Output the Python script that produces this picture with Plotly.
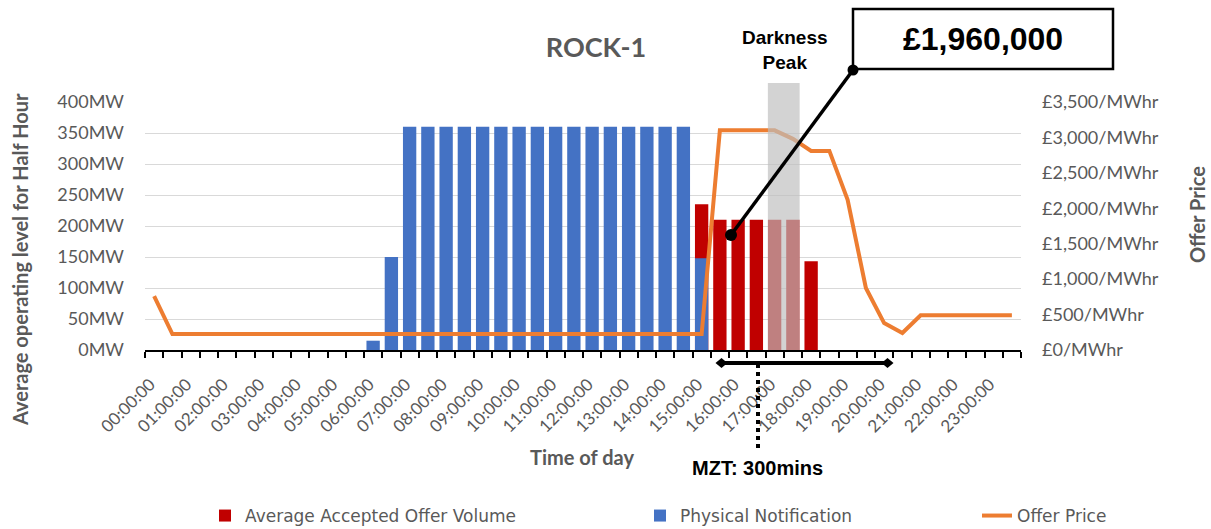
import plotly.graph_objects as go

# ---------------- data ----------------
half_hours = [
    "00:00:00", "00:30:00", "01:00:00", "01:30:00", "02:00:00", "02:30:00",
    "03:00:00", "03:30:00", "04:00:00", "04:30:00", "05:00:00", "05:30:00",
    "06:00:00", "06:30:00", "07:00:00", "07:30:00", "08:00:00", "08:30:00",
    "09:00:00", "09:30:00", "10:00:00", "10:30:00", "11:00:00", "11:30:00",
    "12:00:00", "12:30:00", "13:00:00", "13:30:00", "14:00:00", "14:30:00",
    "15:00:00", "15:30:00", "16:00:00", "16:30:00", "17:00:00", "17:30:00",
    "18:00:00", "18:30:00", "19:00:00", "19:30:00", "20:00:00", "20:30:00",
    "21:00:00", "21:30:00", "22:00:00", "22:30:00", "23:00:00", "23:30:00",
]
hour_labels = [
    "00:00:00", "01:00:00", "02:00:00", "03:00:00", "04:00:00", "05:00:00",
    "06:00:00", "07:00:00", "08:00:00", "09:00:00", "10:00:00", "11:00:00",
    "12:00:00", "13:00:00", "14:00:00", "15:00:00", "16:00:00", "17:00:00",
    "18:00:00", "19:00:00", "20:00:00", "21:00:00", "22:00:00", "23:00:00",
]
accepted_offer_mw = [
    0, 0, 0, 0, 0, 0, 0, 0, 0, 0, 0, 0,
    0, 0, 0, 0, 0, 0, 0, 0, 0, 0, 0, 0,
    0, 0, 0, 0, 0, 0, 235, 210, 210, 210, 210, 210,
    143, 0, 0, 0, 0, 0, 0, 0, 0, 0, 0, 0,
]
physical_notification_mw = [
    0, 0, 0, 0, 0, 0, 0, 0, 0, 0, 0, 0,
    15, 150, 360, 360, 360, 360, 360, 360, 360, 360, 360, 360,
    360, 360, 360, 360, 360, 360, 148, 0, 0, 0, 0, 0,
    0, 0, 0, 0, 0, 0, 0, 0, 0, 0, 0, 0,
]
offer_price_gbp = [
    760, 225, 225, 225, 225, 225, 225, 225, 225, 225, 225, 225,
    225, 225, 225, 225, 225, 225, 225, 225, 225, 225, 225, 225,
    225, 225, 225, 225, 225, 225, 225, 3100, 3100, 3100, 3100, 2980,
    2810, 2810, 2120, 875, 380, 240, 490, 490, 490, 490, 490, 490,
]
darkness_peak_slots = ["17:00:00", "17:30:00"]
total_value_text = "£1,960,000"
mzt_text = "MZT: 300mins"

# ---------------- figure ----------------
slot_pos = list(range(len(half_hours)))
hour_pos = [half_hours.index(h) for h in hour_labels]
boundaries = [p - 0.5 for p in slot_pos] + [slot_pos[-1] + 0.5]

GREY = "#595959"
FONT = "Lato"
LEGEND_FONT = "DejaVu Sans"

fig = go.Figure()
fig.add_trace(go.Bar(
    x=slot_pos, y=accepted_offer_mw, name="Average Accepted Offer Volume",
    marker=dict(color="#C00000", line=dict(width=0)), legend="legend",
    customdata=half_hours, hovertemplate="%{customdata}: %{y}MW<extra></extra>",
))
fig.add_trace(go.Bar(
    x=slot_pos, y=physical_notification_mw, name="Physical Notification",
    marker=dict(color="#4472C4", line=dict(width=0)), legend="legend2",
    customdata=half_hours, hovertemplate="%{customdata}: %{y}MW<extra></extra>",
))
fig.add_trace(go.Scatter(
    x=slot_pos, y=offer_price_gbp, name="Offer Price", yaxis="y2",
    mode="lines", line=dict(color="#ED7D31", width=4), legend="legend3",
    customdata=half_hours, hovertemplate="%{customdata}: £%{y}/MWhr<extra></extra>",
))

# plot area in pixels: x 145..1021, y 102..350
L, R, T, B = 145, 1021, 102, 350
W, H = R - L, B - T


def px(xp):
    return (xp - L) / W


def py(yp):
    return (B - yp) / H


dp0 = half_hours.index(darkness_peak_slots[0])
dp1 = half_hours.index(darkness_peak_slots[-1])

shapes = [
    # darkness peak band
    dict(type="rect", xref="x", yref="paper", x0=dp0 - 0.37, x1=dp1 + 0.37,
         y0=0, y1=py(83), fillcolor="rgba(190,190,190,0.675)",
         line=dict(width=0), layer="above"),
    # value box
    dict(type="rect", xref="paper", yref="paper", x0=px(853), x1=px(1113),
         y0=py(69), y1=py(9), fillcolor="white",
         line=dict(color="black", width=2.5), layer="above"),
    # pointer line
    dict(type="line", xref="paper", yref="paper", x0=px(731), y0=py(235),
         x1=px(853), y1=py(70), line=dict(color="black", width=3.5), layer="above"),
    dict(type="circle", xref="paper", yref="paper", x0=px(731 - 6), x1=px(731 + 6),
         y0=py(235 + 6), y1=py(235 - 6), fillcolor="black",
         line=dict(width=0), layer="above"),
    dict(type="circle", xref="paper", yref="paper", x0=px(853 - 5.5), x1=px(853 + 5.5),
         y0=py(70 + 5.5), y1=py(70 - 5.5), fillcolor="black",
         line=dict(width=0), layer="above"),
    # MZT span
    dict(type="line", xref="paper", yref="paper", x0=px(720), y0=py(363),
         x1=px(885), y1=py(363), line=dict(color="black", width=4), layer="above"),
    dict(type="line", xref="paper", yref="paper", x0=px(758), y0=py(364),
         x1=px(758), y1=py(450), line=dict(color="black", width=4, dash="dot"),
         layer="above"),
]
for cx in (721.5, 887.5):
    shapes.append(dict(
        type="path", xref="paper", yref="paper",
        path=(f"M {px(cx - 6)} {py(363)} L {px(cx)} {py(358)} "
              f"L {px(cx + 6)} {py(363)} L {px(cx)} {py(368)} Z"),
        fillcolor="black", line=dict(width=0), layer="above"))

annotations = [
    dict(text=total_value_text, xref="paper", yref="paper", x=px(983), y=py(39),
         showarrow=False, xanchor="center", yanchor="middle",
         font=dict(family="Liberation Sans", size=32, color="black", weight="bold")),
    dict(text="Darkness<br>Peak", xref="paper", yref="paper", x=px(785), y=py(50),
         showarrow=False, xanchor="center", yanchor="middle",
         font=dict(family="Liberation Sans", size=19, color="black", weight="bold")),
    dict(text=mzt_text, xref="paper", yref="paper", x=px(757), y=py(468),
         showarrow=False, xanchor="center", yanchor="middle",
         font=dict(family="Liberation Sans", size=20, color="black", weight="bold")),
    dict(text="Average operating level for Half Hour", xref="paper", yref="paper",
         x=px(20), y=py(260), textangle=-90, showarrow=False,
         xanchor="center", yanchor="middle",
         font=dict(family=FONT, size=20, color=GREY, weight="bold")),
    dict(text="Time of day", xref="paper", yref="paper", x=px(582), y=py(457),
         showarrow=False, xanchor="center", yanchor="middle",
         font=dict(family=FONT, size=20, color=GREY, weight="bold")),
    dict(text="Offer Price", xref="paper", yref="paper", x=px(1197), y=py(215),
         textangle=-90, showarrow=False, xanchor="center", yanchor="middle",
         font=dict(family=FONT, size=20, color=GREY, weight="bold")),
]

legend_common = dict(orientation="h", yref="paper", y=py(516), yanchor="middle",
                     xanchor="left", bgcolor="rgba(0,0,0,0)",
                     font=dict(family=LEGEND_FONT, size=17, color=GREY))

fig.update_layout(
    width=1211, height=529,
    margin=dict(l=L, r=1211 - R, t=T, b=529 - B, autoexpand=False),
    paper_bgcolor="white", plot_bgcolor="white",
    barmode="overlay", bargap=0.27,
    font=dict(family=FONT, color=GREY),
    title=dict(text="ROCK-1", x=596 / 1211, xref="container", xanchor="center",
               y=1 - 48 / 529, yref="container", yanchor="middle",
               font=dict(family=FONT, size=27, color=GREY, weight="bold")),
    xaxis=dict(
        range=[-0.5, slot_pos[-1] + 0.5], tickmode="array", tickvals=hour_pos,
        ticktext=hour_labels, tickangle=-45, ticks="", showgrid=False,
        zeroline=False, showline=True, linecolor="black", linewidth=1.5,
        tickfont=dict(family=FONT, size=17, color=GREY),
        ticklabelstandoff=16, ticklabelshift=-4,
        minor=dict(tickmode="array", tickvals=boundaries, ticks="outside",
                   ticklen=6, tickcolor="black", tickwidth=1.5, showgrid=False),
        automargin=False,
    ),
    yaxis=dict(
        range=[0, 400], dtick=50, ticksuffix="MW", showgrid=True,
        gridcolor="#D9D9D9", gridwidth=1.2, zeroline=False, showline=False,
        ticks="", tickfont=dict(family=FONT, size=18, color=GREY),
        ticklabelstandoff=20, automargin=False,
    ),
    yaxis2=dict(
        range=[0, 3500], dtick=500, tickprefix="£", ticksuffix="/MWhr",
        tickformat=",d", overlaying="y", side="right", showgrid=False,
        zeroline=False, showline=False, ticks="",
        tickfont=dict(family=FONT, size=18, color=GREY),
        ticklabelstandoff=20, automargin=False,
    ),
    legend=dict(legend_common, x=px(205)),
    legend2=dict(legend_common, x=px(640)),
    legend3=dict(legend_common, x=px(977)),
    shapes=shapes,
    annotations=annotations,
    showlegend=True,
)

fig.write_html("out.html")
